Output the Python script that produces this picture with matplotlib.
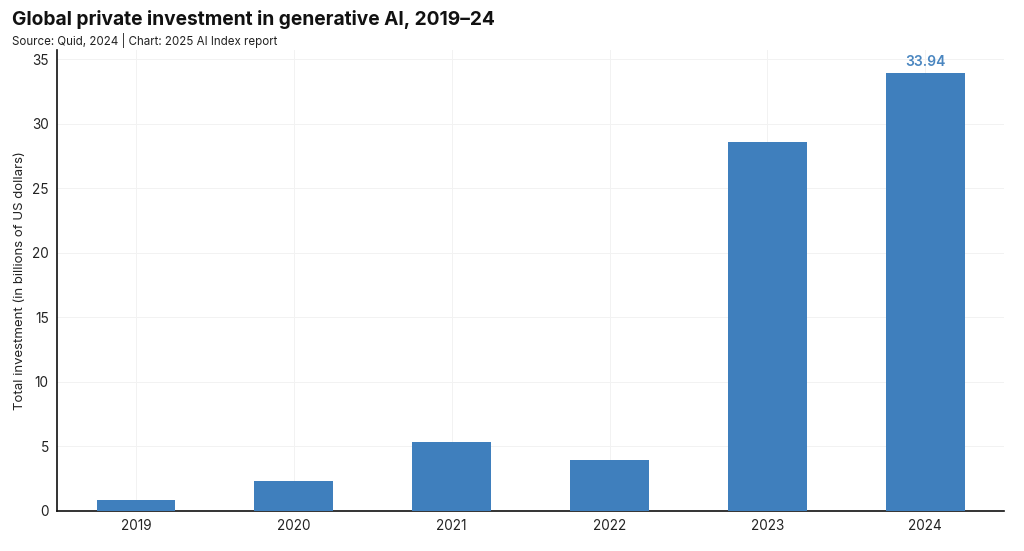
import matplotlib
matplotlib.use('Agg')
import matplotlib.pyplot as plt

years = ['2019', '2020', '2021', '2022', '2023', '2024']
investment = [0.85, 2.34, 5.32, 3.95, 28.58, 33.94]
yticks = [0, 5, 10, 15, 20, 25, 30, 35]

plt.rcParams['font.family'] = ['Inter', 'DejaVu Sans']

fig = plt.figure(figsize=(10.24, 5.51), dpi=100)
ax = fig.add_axes([0.0557, 0.0726, 0.925, 0.836])

x = range(len(years))
ax.bar(x, investment, width=0.5, color='#3f7fbd', zorder=3)

# only the last bar is labelled
ax.text(x[-1], investment[-1] + 0.35, '%.2f' % investment[-1], ha='center', va='bottom',
        fontsize=10, color='#4a86c0', fontweight='semibold')

ax.set_xlim(-0.5, 5.5)
ax.set_ylim(0, 35.7)
ax.set_xticks(list(x))
ax.set_xticklabels(years)
ax.set_yticks(yticks)
ax.tick_params(axis='both', length=0, labelsize=9.8, colors='#222222', pad=6)
ax.set_ylabel('Total investment (in billions of US dollars)', fontsize=9.5, color='#222222', labelpad=4)

ax.grid(True, color='#f2f2f2', linewidth=0.7, zorder=0)
for side in ['top', 'right']:
    ax.spines[side].set_visible(False)
ax.spines['left'].set_color('#111111')
ax.spines['bottom'].set_color('#111111')
ax.spines['left'].set_linewidth(1.2)
ax.spines['bottom'].set_linewidth(1.2)

fig.text(0.012, 0.965, 'Global private investment in generative AI, 2019\u201324',
         fontsize=13.8, fontweight='bold', va='center', color='#111111')
fig.text(0.012, 0.926, 'Source: Quid, 2024 | Chart: 2025 AI Index report',
         fontsize=8.3, va='center', color='#222222')

fig.savefig('out.png', dpi=100, facecolor='white')
